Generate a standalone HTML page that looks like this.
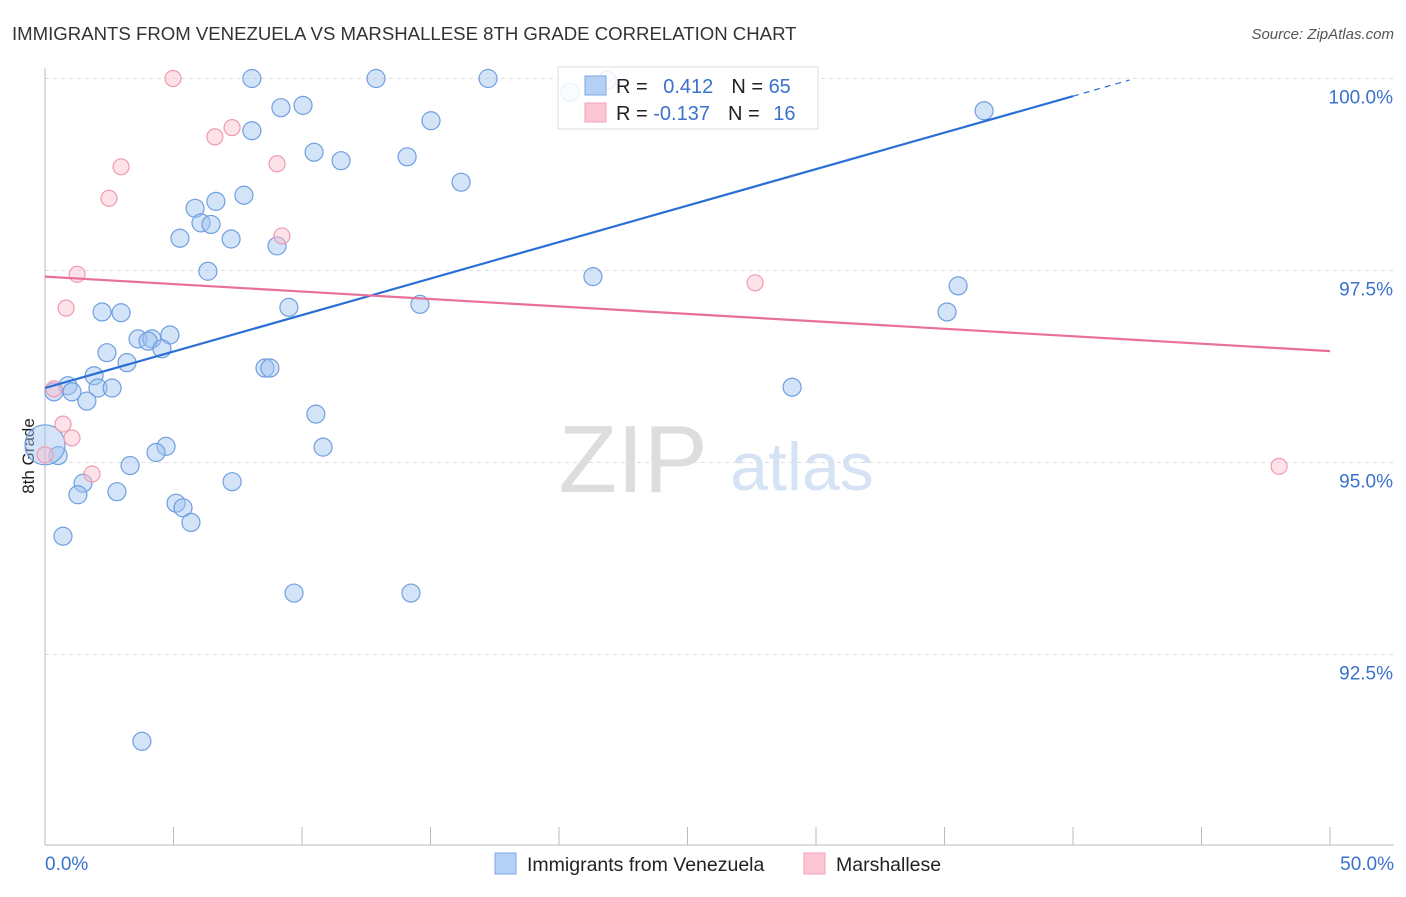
<!DOCTYPE html>
<html><head><meta charset="utf-8"><style>
body{margin:0;background:#fff;font-family:"Liberation Sans",sans-serif;}
svg text{font-family:"Liberation Sans",sans-serif;}
</style></head><body>
<svg width="1406" height="892" id="c">
<text x="12" y="40" font-size="18.6" fill="#333">IMMIGRANTS FROM VENEZUELA VS MARSHALLESE 8TH GRADE CORRELATION CHART</text>
<text x="1394" y="39" font-size="15" fill="#555" text-anchor="end" font-style="italic">Source: ZipAtlas.com</text>
<text x="34" y="456" font-size="17" fill="#222" transform="rotate(-90 34 456)" text-anchor="middle">8th Grade</text>
<text x="633" y="492" font-size="96" fill="#ddd" text-anchor="middle" font-family="Liberation Serif">ZIP</text>
<text x="802" y="490" font-size="68" fill="#d5e3f5" text-anchor="middle">atlas</text>
<g id="grid"></g><g id="axes"></g><g id="pts"></g><g id="trend"></g>
<g>
<rect x="558" y="67" width="260" height="62" fill="#fff" fill-opacity="0.85" stroke="#ddd"/>
<rect x="585" y="76" width="21" height="19" fill="#b5d0f5" stroke="#7aa7e6"/>
<rect x="585" y="103" width="21" height="19" fill="#fcc6d4" stroke="#f2a3b8"/>
<text x="616" y="93" font-size="20" fill="#222">R = <tspan fill="#3a72cc" dx="10">0.412</tspan><tspan fill="#222" dx="18">N = </tspan><tspan fill="#3a72cc">65</tspan></text>
<text x="616" y="120" font-size="20" fill="#222">R = <tspan fill="#3a72cc">-0.137</tspan><tspan fill="#222" dx="18">N = </tspan><tspan fill="#3a72cc" dx="8">16</tspan></text>
</g>
<g>
<rect x="495" y="853" width="21" height="21" fill="#b5d0f5" stroke="#7aa7e6"/>
<text x="527" y="871" font-size="19.5" fill="#222">Immigrants from Venezuela</text>
<rect x="804" y="853" width="21" height="21" fill="#fcc6d4" stroke="#f2a3b8"/>
<text x="836" y="871" font-size="19.5" fill="#222">Marshallese</text>
</g>
</svg>
<script>
const blueX=[8.05,12.88,17.24,9.18,10.04,8.05,15.02,10.47,11.52,14.09,16.19,7.74,6.65,5.84,6.07,6.46,5.25,7.24,9.03,6.34,9.49,14.59,2.22,2.96,21.32,35.53,35.10,36.54,4.86,3.62,4.16,4.01,4.55,2.41,3.19,8.56,8.75,1.91,0.89,1.05,2.06,2.61,1.63,0.35,29.07,10.54,10.82,4.71,4.32,0.51,3.31,1.48,1.28,2.80,7.28,5.10,5.37,5.68,0.70,9.69,14.24,3.77,20.43,21.87,0];
const blueY=[100.0,100.0,100.0,99.62,99.65,99.32,99.45,99.04,98.93,98.98,98.65,98.48,98.40,98.31,98.12,98.10,97.92,97.91,97.82,97.49,97.02,97.06,96.96,96.95,97.42,97.30,96.96,99.58,96.66,96.61,96.61,96.58,96.48,96.43,96.30,96.23,96.23,96.13,96.00,95.92,95.97,95.97,95.80,95.92,95.98,95.63,95.20,95.21,95.13,95.09,94.96,94.73,94.58,94.62,94.75,94.47,94.41,94.22,94.04,93.30,93.30,91.37,99.82,99.98,95.23];
const pinkX=[4.98,7.28,6.61,2.96,9.03,2.49,9.22,1.25,0.82,27.63,0.35,0.70,1.05,1.83,48.02,0];
const pinkY=[100.0,99.36,99.24,98.85,98.89,98.44,97.95,97.45,97.01,97.34,95.96,95.50,95.32,94.85,94.95,95.10];
const yTicks=[100,97.5,95,92.5];
const yTickLabels=["100.0%","97.5%","95.0%","92.5%"];
const xTickLabels=["0.0%","50.0%"];
const blueTrend=[[0,95.97],[40,99.77]];
const blueDash=[[40,99.77],[42.2,99.98]];
const pinkTrend=[[0,97.42],[50,96.45]];
const sx=v=>45+v*25.7, sy=v=>78.5+(100-v)*76.8;
const NS="http://www.w3.org/2000/svg";
function mk(t,a,p){const e=document.createElementNS(NS,t);for(const k in a)e.setAttribute(k,a[k]);p.appendChild(e);return e;}
const grid=document.getElementById('grid'),axes=document.getElementById('axes'),pts=document.getElementById('pts'),tr=document.getElementById('trend');
yTicks.forEach((t,i)=>{
 const l=mk('line',{x1:45,x2:1394,y1:sy(t),y2:sy(t),stroke:'#ddd','stroke-dasharray':'4,4'},grid);
 
 
 const tx=mk('text',{x:1393,y:sy(t)+25,'font-size':19,fill:'#3a72cc','text-anchor':'end'},grid);
 tx.textContent=yTickLabels[i];
 
 
});
let a=mk('line',{x1:45,x2:45,y1:68,y2:845,stroke:'#bbb'},axes);


a=mk('line',{x1:45,x2:1394,y1:845,y2:845,stroke:'#bbb'},axes);


for(let k=1;k<=10;k++){const x=sx(k*5);const t=mk('line',{x1:x,x2:x,y1:827,y2:845,stroke:'#bbb'},axes);
 
 }
[[0,'start',45],[50,'end',1394]].forEach((d,i)=>{const t=mk('text',{x:d[2],y:870,'font-size':19,fill:'#3a72cc','text-anchor':d[1]},axes);t.textContent=xTickLabels[i];
 
 });
blueX.forEach((x,i)=>{const c=mk('circle',{cx:sx(x),cy:sy(blueY[i]),r:i==blueX.length-1?20:9,fill:'rgba(160,195,240,0.45)',stroke:'#6f9fe0','stroke-width':1.2},pts);
 
 });
pinkX.forEach((x,i)=>{const c=mk('circle',{cx:sx(x),cy:sy(pinkY[i]),r:8,fill:'rgba(250,190,205,0.45)',stroke:'#ef9ab3','stroke-width':1.2},pts);
 
 });
let l=mk('line',{x1:sx(blueTrend[0][0]),y1:sy(blueTrend[0][1]),x2:sx(blueTrend[1][0]),y2:sy(blueTrend[1][1]),stroke:'#2a6fd6','stroke-width':2.2},tr);


l=mk('line',{x1:sx(blueDash[0][0]),y1:sy(blueDash[0][1]),x2:sx(blueDash[1][0]),y2:sy(blueDash[1][1]),stroke:'#2a6fd6','stroke-width':1.2,'stroke-dasharray':'6,5'},tr);


l=mk('line',{x1:sx(pinkTrend[0][0]),y1:sy(pinkTrend[0][1]),x2:sx(pinkTrend[1][0]),y2:sy(pinkTrend[1][1]),stroke:'#e8709a','stroke-width':2.2},tr);


</script>
</body></html>
